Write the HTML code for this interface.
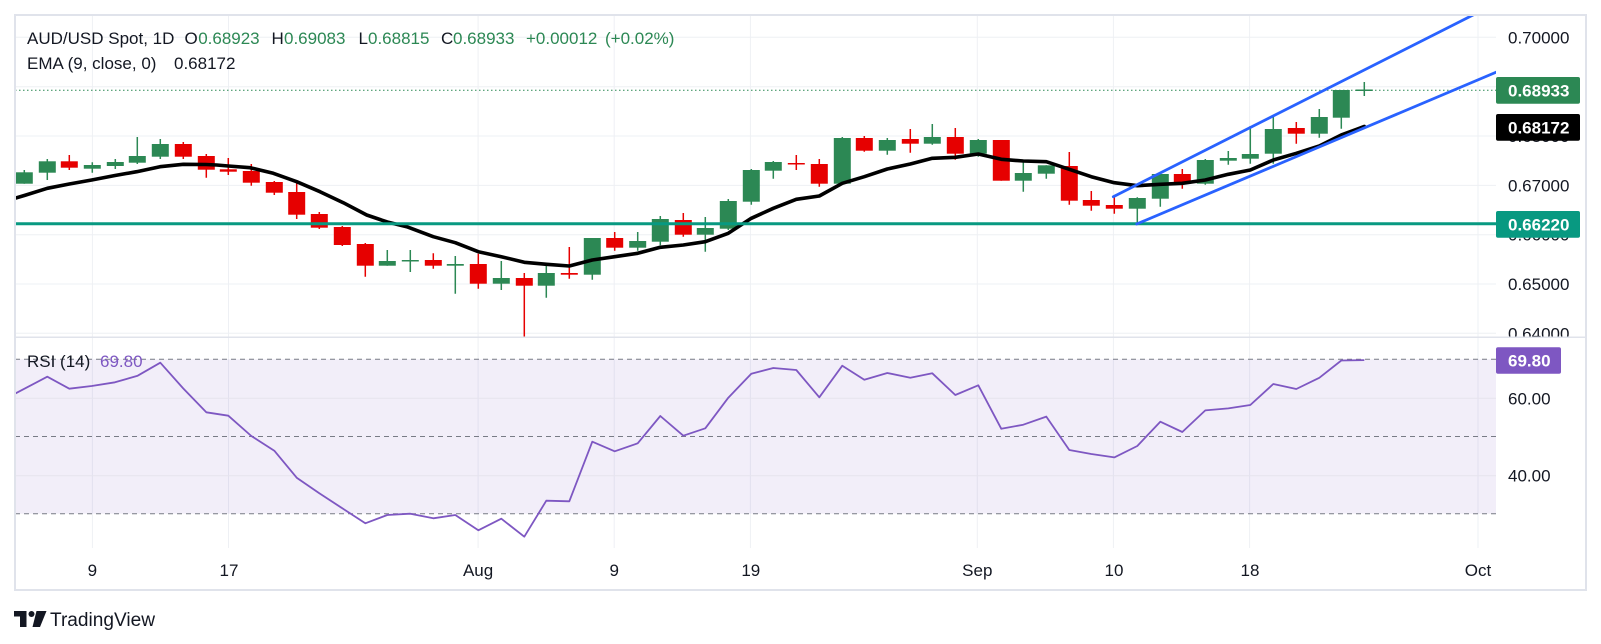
<!DOCTYPE html>
<html>
<head>
<meta charset="utf-8">
<style>
  html, body { margin: 0; padding: 0; background: #ffffff; }
  svg { display: block; }
  text { font-family: "Liberation Sans", "DejaVu Sans", sans-serif; }
</style>
</head>
<body>
<svg width="1601" height="644" viewBox="0 0 1601 644" xmlns="http://www.w3.org/2000/svg">
  <defs>
    <clipPath id="pc"><rect x="15" y="16" width="1481" height="321"/></clipPath>
    <clipPath id="rc"><rect x="15" y="338" width="1481" height="210"/></clipPath>
    <clipPath id="ac"><rect x="1496" y="16" width="90" height="321"/></clipPath>
  </defs>
  <rect width="1601" height="644" fill="#ffffff"/>

  <!-- vertical grid -->
  <g stroke="#eef0f4" stroke-width="1">
    <path d="M92.4 16V548 M228.5 16V548 M478.1 16V548 M614.2 16V548 M750.4 16V548 M977.3 16V548 M1113.4 16V548 M1249.6 16V548 M1478 16V548"/>
  </g>
  <!-- horizontal grid price pane -->
  <g stroke="#eef0f4" stroke-width="1">
    <path d="M15 37.3H1496 M15 86.7H1496 M15 136H1496 M15 185.4H1496 M15 234.7H1496 M15 284H1496 M15 333.3H1496"/>
  </g>

  <g clip-path="url(#pc)">
    <!-- dotted last price line -->
    <path d="M15 90.3H1496" stroke="#2c8854" stroke-width="1" stroke-dasharray="1.5 2.5"/>

    <!-- green candles -->
    <path stroke="#2c8854" stroke-width="1.5" fill="none" d="M24.3 170V183.7 M47.3 159V180 M92.3 162.3V172.7 M115.3 159V169 M137.3 137V164 M160.3 139V159 M387.3 250V265.7 M410.3 250V272 M455.3 256V293.7 M501.3 261V290 M546.3 263V297.7 M592.3 238V279.7 M637.7 232V250.7 M660.3 216V245.3 M705.3 217V251.7 M728.3 199V230 M751.3 169V204.7 M773.3 161V178.7 M842.3 137V183.7 M887.3 138V154.7 M932.3 124V144.7 M978.3 139V156.7 M1023.3 161V191.7 M1046.3 165.3V178.7 M1137.3 197.3V224 M1160.3 174V206.7 M1205.3 159V184.7 M1228.3 151V164.7 M1250.3 126V163.7 M1273.3 116V163.7 M1319.3 109V137.7 M1341.3 90V128.7 M1364.3 82V96"/>
    <g fill="#2c8854">
      <rect x="15.8" y="172.3" width="17" height="11.4"/>
      <rect x="38.8" y="161.3" width="17" height="11.4"/>
      <rect x="83.8" y="165" width="17" height="3.7"/>
      <rect x="106.8" y="162" width="17" height="4"/>
      <rect x="128.8" y="156" width="17" height="6.7"/>
      <rect x="151.8" y="144" width="17" height="12.7"/>
      <rect x="378.8" y="261" width="17" height="4.7"/>
      <rect x="401.8" y="260" width="17" height="1.5"/>
      <rect x="446.8" y="264" width="17" height="1.7"/>
      <rect x="492.8" y="278" width="17" height="5.7"/>
      <rect x="537.8" y="273" width="17" height="12.7"/>
      <rect x="583.8" y="238" width="17" height="36.7"/>
      <rect x="629.2" y="241" width="17" height="6.7"/>
      <rect x="651.8" y="219" width="17" height="22.7"/>
      <rect x="696.8" y="228" width="17" height="6.7"/>
      <rect x="719.8" y="201" width="17" height="27.7"/>
      <rect x="742.8" y="170" width="17" height="31.7"/>
      <rect x="764.8" y="162" width="17" height="8.7"/>
      <rect x="833.8" y="138" width="17" height="45.7"/>
      <rect x="878.8" y="140" width="17" height="10.7"/>
      <rect x="923.8" y="137" width="17" height="6.7"/>
      <rect x="969.8" y="140" width="17" height="13.7"/>
      <rect x="1014.8" y="173" width="17" height="7.7"/>
      <rect x="1037.8" y="165.3" width="17" height="8.4"/>
      <rect x="1128.8" y="198" width="17" height="10.7"/>
      <rect x="1151.8" y="174" width="17" height="24.7"/>
      <rect x="1196.8" y="160" width="17" height="23.7"/>
      <rect x="1219.8" y="158" width="17" height="2.7"/>
      <rect x="1241.8" y="154" width="17" height="4.7"/>
      <rect x="1264.8" y="129" width="17" height="24.7"/>
      <rect x="1310.8" y="117" width="17" height="16.7"/>
      <rect x="1332.8" y="90" width="17" height="27.7"/>
      <rect x="1355.8" y="89.5" width="17" height="1.5"/>
    </g>

    <!-- red candles -->
    <path stroke="#e60000" stroke-width="1.5" fill="none" d="M69.3 155V170 M183.3 142V159 M206.3 154V177.7 M228.3 158V175 M251.3 164V185.7 M274.3 181V195 M296.7 183.3V219 M319.3 212V229 M342.3 226V246 M365.3 243V276.7 M433.3 253.3V268.7 M478.3 253.7V288.7 M524.3 273V336.7 M569.3 247V278.7 M614.7 232V250.7 M683.3 213V236.7 M796.3 155V170 M819.3 159V186.7 M864.3 136V151.7 M910.3 129V152.7 M955.3 128V159.7 M1001.3 140V180.7 M1069.3 152V204.7 M1091.3 191V210.7 M1114.3 197V213.7 M1182.3 169V188.7 M1296.3 122V143.7"/>
    <g fill="#e60000">
      <rect x="60.8" y="161.3" width="17" height="6.4"/>
      <rect x="174.8" y="144" width="17" height="12.7"/>
      <rect x="197.8" y="156" width="17" height="13.7"/>
      <rect x="219.8" y="169.3" width="17" height="2.4"/>
      <rect x="242.8" y="171" width="17" height="11.7"/>
      <rect x="265.8" y="182" width="17" height="10.7"/>
      <rect x="288.2" y="192" width="17" height="22.7"/>
      <rect x="310.8" y="214" width="17" height="13.7"/>
      <rect x="333.8" y="227" width="17" height="18"/>
      <rect x="356.8" y="244" width="17" height="21.7"/>
      <rect x="424.8" y="260" width="17" height="5.7"/>
      <rect x="469.8" y="264" width="17" height="19.7"/>
      <rect x="515.8" y="278" width="17" height="7.7"/>
      <rect x="560.8" y="273" width="17" height="1.7"/>
      <rect x="606.2" y="238" width="17" height="9.7"/>
      <rect x="674.8" y="220" width="17" height="14.7"/>
      <rect x="787.8" y="163" width="17" height="1.5"/>
      <rect x="810.8" y="164" width="17" height="19.7"/>
      <rect x="855.8" y="138" width="17" height="12.7"/>
      <rect x="901.8" y="139" width="17" height="4.7"/>
      <rect x="946.8" y="137" width="17" height="16.7"/>
      <rect x="992.8" y="140" width="17" height="40.7"/>
      <rect x="1060.8" y="166" width="17" height="34.7"/>
      <rect x="1082.8" y="200" width="17" height="5.7"/>
      <rect x="1105.8" y="205" width="17" height="3.7"/>
      <rect x="1173.8" y="174" width="17" height="9.7"/>
      <rect x="1287.8" y="128" width="17" height="5.7"/>
    </g>

    <!-- EMA 9 -->
    <polyline fill="none" stroke="#000000" stroke-width="3.6" stroke-linejoin="round" stroke-linecap="round"
      points="14,198.6 24.3,195.5 47.3,188.3 69.3,184 91.7,180 115,175.5 136.7,171.7 160,166.7 183.3,164.3 206,164.5 216.7,165 228.3,166 250,167.7 273.3,173.3 296.7,181.7 320,191.7 343.3,202.7 366.7,215 387.3,222 406.7,226.7 433.3,236.7 455.3,242.7 478.3,251.7 501.3,256.7 524.3,262.3 546.7,264.3 569.3,266 592.3,260 614.7,256.7 637.7,253.3 660.3,247.3 683.3,245 705.3,241.7 728.3,233.3 751.3,218.3 773.3,208.3 796.3,199.3 819.3,196 842.3,183.3 864.3,176.7 887.3,169 910.3,164 932.3,158.3 955.3,157.3 978.3,154 1001.3,159.3 1023.3,161 1046.3,161.7 1069.3,169.3 1091.3,176.7 1114.3,182.7 1137.3,185.7 1160.3,184.3 1182.3,183.3 1205.3,180 1228.3,174.3 1250.3,170 1273.3,160 1296.3,153.3 1319.3,146 1341.3,135 1364.3,126.5"/>

    <!-- horizontal support line -->
    <path d="M15 223.8H1496" stroke="#089981" stroke-width="3"/>
    <!-- channel -->
    <path d="M1113.3 196.7L1475 14" stroke="#2962ff" stroke-width="2.8" stroke-linecap="round"/>
    <path d="M1136.7 224L1500 70.6" stroke="#2962ff" stroke-width="2.8" stroke-linecap="round"/>
  </g>

  <!-- price axis labels -->
  <g clip-path="url(#ac)" font-size="17" fill="#131722">
    <text x="1508" y="43.3">0.70000</text>
    <text x="1508" y="92.7">0.69000</text>
    <text x="1508" y="142">0.68000</text>
    <text x="1508" y="191.4">0.67000</text>
    <text x="1508" y="240.7">0.66000</text>
    <text x="1508" y="290">0.65000</text>
    <text x="1508" y="339.3">0.64000</text>
    <rect x="1496" y="77" width="84" height="26.7" rx="2" fill="#2c8854"/>
    <text x="1508" y="96.3" fill="#ffffff" font-weight="bold">0.68933</text>
    <rect x="1496" y="114" width="84" height="26.7" rx="2" fill="#000000"/>
    <text x="1508" y="133.4" fill="#ffffff" font-weight="bold">0.68172</text>
    <rect x="1496" y="211" width="84" height="26.7" rx="2" fill="#089981"/>
    <text x="1508" y="230.4" fill="#ffffff" font-weight="bold">0.66220</text>
  </g>

  <!-- RSI pane -->
  <rect x="15" y="359.3" width="1481" height="154.4" fill="#7e57c2" fill-opacity="0.1"/>
  <g stroke="#e6e3ee" stroke-width="1">
    <path d="M15 398.3H1496 M15 475.7H1496"/>
  </g>
  <g stroke="#787b86" stroke-width="1" stroke-dasharray="5 4">
    <path d="M15 359.3H1496 M15 436.5H1496 M15 513.7H1496"/>
  </g>
  <g clip-path="url(#rc)">
    <polyline fill="none" stroke="#7e57c2" stroke-width="1.8" stroke-linejoin="round"
      points="15,393.7 47.3,376.7 69.3,388.7 91.7,386 115,382.3 137.7,375.7 160.3,362.7 183.3,388.5 206.3,412.3 228.3,415.7 251.3,436 274.3,450.7 296.7,477.7 319.3,493.3 342.3,508.3 365.3,523.3 387.3,515 410.3,513.7 433.3,518.3 455.3,515 478.3,530.3 501.3,518.7 524.3,536.7 546.3,500.7 569.3,501.3 592.3,441.7 614.7,451.3 637.7,443.3 660.3,416 683.3,435.7 705.3,428.3 728.3,397.7 751.3,373.7 773.3,368 796.3,370 819.3,397.3 842.3,365.7 864.3,379.7 887.3,373 910.3,377.7 932.3,373.3 955.3,395 978.3,385.3 1001.3,428.8 1023.3,424.7 1046.3,416.6 1069.3,450 1091.3,454 1114.3,457.4 1137.3,446 1160.3,421.7 1182.3,432 1205.3,410.4 1228.3,408.4 1250.3,405 1273.3,384 1296.3,389 1319.3,377.8 1341.3,360.5 1364.3,360.1"/>
  </g>
  <text x="27" y="367" font-size="17" fill="#131722">RSI (14)</text>
  <text x="100" y="367" font-size="17" fill="#7e57c2">69.80</text>

  <!-- RSI axis -->
  <g font-size="17" fill="#131722">
    <text x="1508" y="404.3">60.00</text>
    <text x="1508" y="481.7">40.00</text>
  </g>
  <rect x="1496" y="347.3" width="65" height="26.4" rx="2" fill="#7e57c2"/>
  <text x="1508" y="366.6" font-size="17" fill="#ffffff" font-weight="bold">69.80</text>

  <!-- pane separator & frame -->
  <path d="M15 337.3H1586" stroke="#e0e3eb" stroke-width="1.5"/>
  <rect x="15" y="15" width="1571" height="575" fill="none" stroke="#e0e3eb" stroke-width="2"/>

  <!-- legend -->
  <text y="44" font-size="17" fill="#131722">
    <tspan x="27">AUD/USD Spot, 1D</tspan>
    <tspan x="184.5">O</tspan><tspan x="198.2" fill="#2c8854">0.68923</tspan>
    <tspan x="271.5">H</tspan><tspan x="284" fill="#2c8854">0.69083</tspan>
    <tspan x="358.5">L</tspan><tspan x="368" fill="#2c8854">0.68815</tspan>
    <tspan x="441">C</tspan><tspan x="453" fill="#2c8854">0.68933</tspan>
    <tspan x="526" fill="#2c8854">+0.00012</tspan>
    <tspan x="605" fill="#2c8854">(+0.02%)</tspan>
  </text>
  <text y="69" font-size="17" fill="#131722">
    <tspan x="27">EMA (9, close, 0)</tspan>
    <tspan x="174">0.68172</tspan>
  </text>

  <!-- time axis -->
  <g font-size="17" fill="#131722" text-anchor="middle">
    <text x="92.4" y="576">9</text>
    <text x="229" y="576">17</text>
    <text x="478.1" y="576">Aug</text>
    <text x="614.2" y="576">9</text>
    <text x="750.8" y="576">19</text>
    <text x="977.3" y="576">Sep</text>
    <text x="1114" y="576">10</text>
    <text x="1250" y="576">18</text>
    <text x="1478" y="576">Oct</text>
  </g>

  <!-- TradingView logo -->
  <g fill="#131722">
    <rect x="14" y="611" width="12.5" height="5.5"/>
    <rect x="20" y="611" width="6.5" height="16"/>
    <circle cx="31.5" cy="614" r="3"/>
    <polygon points="36.5,611 46.5,611 40,627 32.5,627"/>
  </g>
  <text x="50" y="626" font-size="19" fill="#131722" textLength="105" lengthAdjust="spacingAndGlyphs">TradingView</text>
</svg>
</body>
</html>
